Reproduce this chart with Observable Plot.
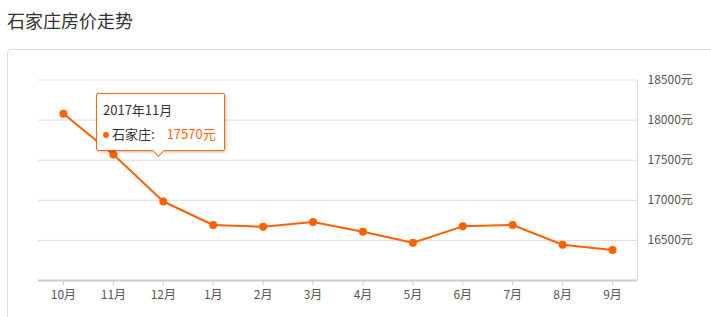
<!DOCTYPE html>
<html><head><meta charset="utf-8">
<script src="https://cdn.jsdelivr.net/npm/d3@7"></script>
<script src="https://cdn.jsdelivr.net/npm/@observablehq/plot@0.6"></script>
<style>
html,body{margin:0;padding:0;background:#fff;font-family:"Noto Sans CJK SC","Noto Sans",sans-serif;}
#wrap{position:relative;width:711px;height:317px;overflow:hidden;}
#title{position:absolute;left:7px;top:7px;font-size:18px;color:#333;line-height:26px;}
#card{position:absolute;left:7px;top:49px;width:720px;height:300px;border:1px solid #ddd;border-radius:4px;box-sizing:border-box;}
#chart{position:absolute;left:0;top:49px;}
#tip{position:absolute;left:96px;top:93px;width:129px;height:58px;box-sizing:border-box;border:1px solid #f60;border-radius:2px;background:rgba(255,255,255,0.9);box-shadow:1px 1px 3px rgba(0,0,0,0.25);font-size:13px;color:#333;}
#tip .t1{position:absolute;left:6px;top:7px;line-height:17px;}
#tip .t2{position:absolute;left:6px;top:31px;line-height:17px;white-space:nowrap;}
#tip .dot{display:inline-block;width:6px;height:6px;border-radius:3px;background:#f60;margin-right:3px;vertical-align:1px;}
#tip .v{color:#f60;margin-left:12px;}
#arrow{position:absolute;left:154px;top:146px;width:8px;height:8px;background:#fff;border-right:1px solid #f60;border-bottom:1px solid #f60;transform:rotate(45deg);}
</style></head>
<body>
<div id="wrap">
<div id="title">石家庄房价走势</div>
<div id="card"></div>
<div id="chart"></div>
<div id="tip"><div class="t1"></div><div class="t2"><span class="dot"></span><span class="n"></span><span class="v"></span></div></div>
<div id="arrow"></div>
</div>
<script>
const months = ["10月","11月","12月","1月","2月","3月","4月","5月","6月","7月","8月","9月"];
const prices = [18080,17570,16985,16692,16671,16729,16608,16471,16675,16692,16446,16379];
const yTicks = [16500,17000,17500,18000,18500];
const cityName = "石家庄";
const tipLabel = "2017年11月";
const tipValue = 17570;

const data = months.map((m,i)=>({month:m, price:prices[i]}));
const orange = "#ff6000";

const chart = Plot.plot({
  width: 711,
  height: 268,
  marginTop: 30.5,
  marginBottom: 37,
  marginLeft: 38,
  marginRight: 74,
  style: {fontFamily: '"Noto Sans CJK SC","Noto Sans",sans-serif', fontSize: "12px", background: "transparent"},
  x: {type: "point", domain: months, padding: 0.5, align: 0.5, round: false},
  y: {domain: [16000, 18500]},
  marks: [
    Plot.ruleY(yTicks, {stroke: "#ddd", strokeWidth: 1}),
    Plot.ruleX([months[months.length-1]], {stroke: "#ddd", dx: 25, y1: 16000, y2: 18500}),
    Plot.ruleY([16000], {stroke: "#ccc", strokeWidth: 2}),
    Plot.axisX({tickSize: 5, stroke: "#ccc", tickPadding: 5, fill: "#555", fontSize: 12, label: null}),
    Plot.axisY({anchor: "right", ticks: yTicks, tickSize: 0, tickPadding: 10, tickFormat: d => d + "元", fill: "#555", fontSize: 12, label: null}),
    Plot.line(data, {x: "month", y: "price", stroke: orange, strokeWidth: 2}),
    Plot.dot(data, {x: "month", y: "price", r: 4, fill: orange})
  ]
});
document.getElementById("chart").appendChild(chart);
document.querySelector("#tip .t1").textContent = tipLabel;
document.querySelector("#tip .n").textContent = cityName + ":";
document.querySelector("#tip .v").textContent = tipValue + "元";
</script>
</body></html>
